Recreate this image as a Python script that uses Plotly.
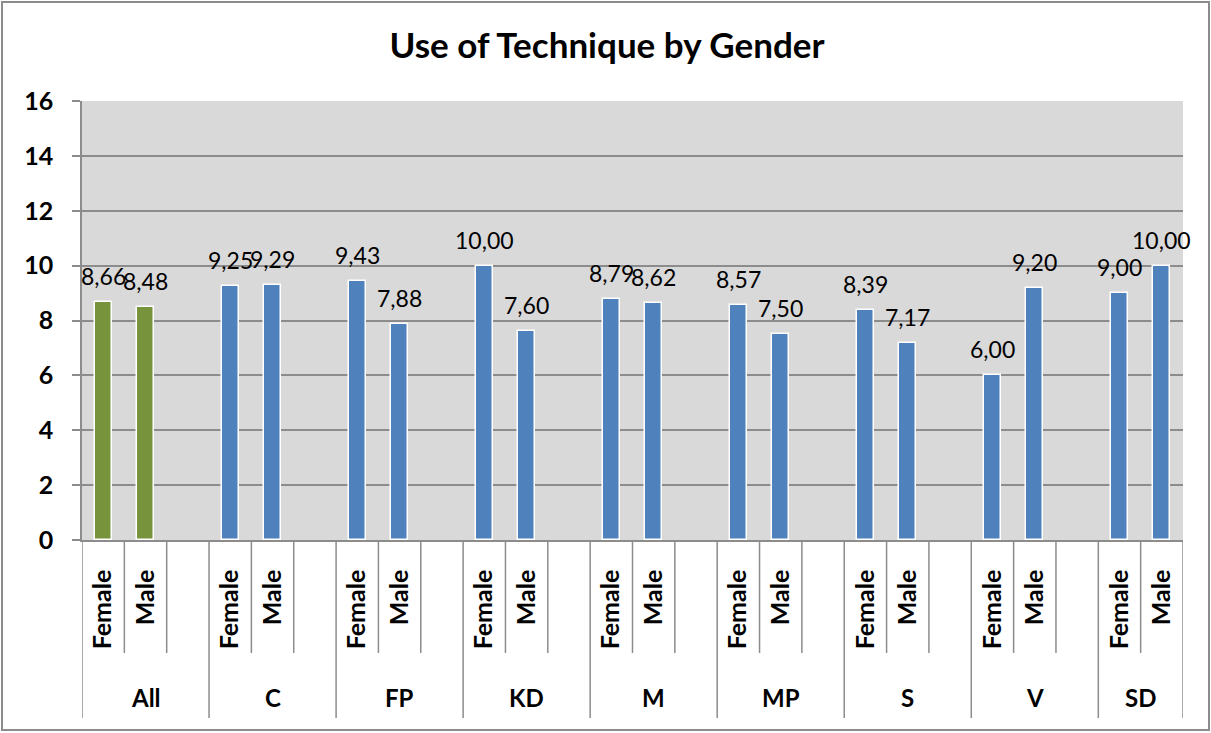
import plotly.graph_objects as go

# Data
groups = ["All", "C", "FP", "KD", "M", "MP", "S", "V", "SD"]
genders = ["Female", "Male"]
female_vals = [8.66, 9.25, 9.43, 10.00, 8.79, 8.57, 8.39, 6.00, 9.00]
male_vals = [8.48, 9.29, 7.88, 7.60, 8.62, 7.50, 7.17, 9.20, 10.00]

y_ticks = [0, 2, 4, 6, 8, 10, 12, 14, 16]

GREEN = "#77933C"
BLUE = "#4F81BD"
GRID = "#8C8C8C"
FONT = "Lato"

# each group gets three slots (Female, Male, blank), the last one only two
x_pos, y_vals, labels, colors = [], [], [], []
for i, g in enumerate(groups):
    for j, (gender, v) in enumerate(zip(genders, [female_vals[i], male_vals[i]])):
        x_pos.append(3 * i + j)
        y_vals.append(v)
        labels.append(gender)
        colors.append(GREEN if g == "All" else BLUE)
n_slots = 3 * len(groups) - 1

fig = go.Figure()
fig.add_trace(go.Bar(
    x=x_pos,
    y=y_vals,
    width=0.4,
    marker=dict(color=colors, line=dict(color="white", width=1.5)),
    hoverinfo="x+y",
    showlegend=False,
))

# value labels, comma decimal like the original
for x, v in zip(x_pos, y_vals):
    fig.add_annotation(
        x=x, y=v, xref="x", yref="y",
        text=f"{v:.2f}".replace(".", ","),
        showarrow=False, yanchor="bottom", yshift=10,
        font=dict(family=FONT, size=23, color="black"),
    )

# category divider lines under the axis
plot_h = 540 - 101
slot_bottom = -(653 - 540) / plot_h
group_bottom = -(718 - 540) / plot_h
for k in range(n_slots + 1):
    is_group_edge = (k % 3 == 0) or k == n_slots
    fig.add_shape(
        type="line", xref="x", yref="paper",
        x0=k - 0.5, x1=k - 0.5, y0=0,
        y1=group_bottom if is_group_edge else slot_bottom,
        line=dict(color=GRID, width=1.5),
    )

# outer group labels
group_label_y = -(697 - 540) / plot_h
for i, g in enumerate(groups):
    span = 3 if i < len(groups) - 1 else 2
    fig.add_annotation(
        x=3 * i + (span - 1) / 2, y=group_label_y, xref="x", yref="paper",
        text=f"<b>{g}</b>", showarrow=False, yanchor="middle",
        font=dict(family=FONT, size=24, color="black"),
    )

# chart border
plot_w = 1183 - 82
fig.add_shape(
    type="rect", xref="paper", yref="paper",
    x0=(2 - 82) / plot_w, x1=(1209 - 82) / plot_w,
    y0=(540 - 730) / plot_h, y1=(540 - 2) / plot_h,
    line=dict(color="#8C8C8C", width=2), fillcolor="rgba(0,0,0,0)",
)

fig.update_layout(
    width=1211,
    height=733,
    margin=dict(l=82, r=28, t=101, b=193),
    paper_bgcolor="white",
    plot_bgcolor="#D9D9D9",
    title=dict(
        text="<b>Use of Technique by Gender</b>",
        x=607 / 1211, xanchor="center", y=1 - 46 / 733, yanchor="middle", yref="container",
        font=dict(family=FONT, size=35, color="black"),
    ),
    xaxis=dict(
        range=[-0.5, n_slots - 0.5],
        tickvals=x_pos,
        ticktext=[f"<b>{t}</b>" for t in labels],
        tickangle=-90,
        ticks="",
        ticklabelstandoff=18,
        showgrid=False,
        zeroline=False,
        showline=True, linecolor=GRID, linewidth=1.5,
        tickfont=dict(family=FONT, size=25, color="black"),
    ),
    yaxis=dict(
        range=[0, 16],
        tickvals=y_ticks,
        ticktext=[f"<b>{t}</b>" for t in y_ticks],
        ticks="outside", ticklen=8, tickcolor=GRID, tickwidth=1.5,
        ticklabelstandoff=14,
        showgrid=True, gridcolor=GRID, gridwidth=1.5,
        zeroline=False,
        showline=True, linecolor=GRID, linewidth=1.5,
        tickfont=dict(family=FONT, size=25, color="black"),
    ),
    bargap=0,
)

# drop the browser's default body margin so the figure sits at the page corner
fig.write_html(
    "out.html",
    config={"displayModeBar": False},
    post_script="document.body.style.margin='0';",
)
